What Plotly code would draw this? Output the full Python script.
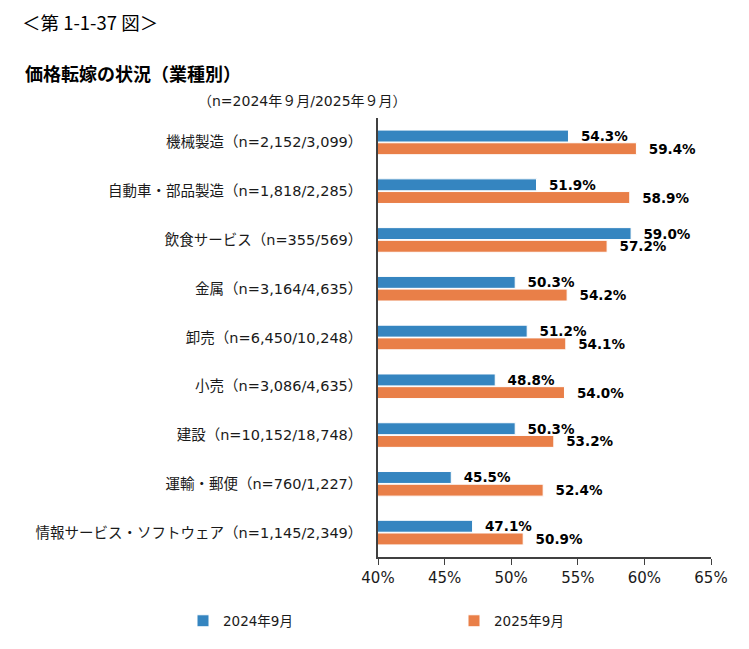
import plotly.graph_objects as go


CATEGORIAS = [
    "機械製造（n=2,152/3,099）",
    "自動車・部品製造（n=1,818/2,285）",
    "飲食サービス（n=355/569）",
    "金属（n=3,164/4,635）",
    "卸売（n=6,450/10,248）",
    "小売（n=3,086/4,635）",
    "建設（n=10,152/18,748）",
    "運輸・郵便（n=760/1,227）",
    "情報サービス・ソフトウェア（n=1,145/2,349）",
]

VALORES_2024 = [54.3, 51.9, 59.0, 50.3, 51.2, 48.8, 50.3, 45.5, 47.1]
VALORES_2025 = [59.4, 58.9, 57.2, 54.2, 54.1, 54.0, 53.2, 52.4, 50.9]

TICKS = [40, 45, 50, 55, 60, 65]
TICK_LABELS = ["40%", "45%", "50%", "55%", "60%", "65%"]

AZUL = "#3585C0"
NARANJA = "#E97F48"

FUENTE = "DejaVu Sans, Noto Sans CJK JP, sans-serif"
FUENTE_JP = "Noto Sans CJK JP, sans-serif"

# El navegador deja 8 px de margen en el body, así que restamos ese desfase.
OFF = 8
ANCHO, ALTO = 749 - OFF, 649 - OFF

# Área del gráfico en píxeles de la ventana.
IZQ, DER, ARR, ABA = 378, 711, 118, 557


def px_x(x):
    return (x - IZQ) / (DER - IZQ)


def px_y(y):
    return (ABA - y) / (ABA - ARR)


def main():

    fig = go.Figure()

    for nombre, valores, color in [
        ("2024年9月", VALORES_2024, AZUL),
        ("2025年9月", VALORES_2025, NARANJA),
    ]:
        fig.add_trace(
            go.Bar(
                y=CATEGORIAS,
                x=valores,
                name=nombre,
                orientation="h",
                marker_color=color,
                marker_line_color="#FFFFFF",
                marker_line_width=1,
                text=[f"\u00a0\u00a0{v:.1f}%" for v in valores],
                textposition="outside",
                constraintext="none",
                cliponaxis=False,
                textfont=dict(family=FUENTE, size=13.5, color="#000000", weight="bold"),
                base=0,
            )
        )

    fig.update_xaxes(
        range=[40, 65],
        tickvals=TICKS,
        ticktext=TICK_LABELS,
        ticks="outside",
        ticklen=6,
        tickcolor="#404040",
        showline=True,
        linecolor="#404040",
        linewidth=1.5,
        showgrid=False,
        zeroline=False,
        tickfont=dict(family=FUENTE, size=15, color="#1A1A1A"),
    )

    fig.update_yaxes(
        autorange="reversed",
        showline=True,
        linecolor="#404040",
        linewidth=1.5,
        showgrid=False,
        ticks="",
        ticklabelstandoff=11,
        tickfont=dict(family=FUENTE, size=14.5, color="#1A1A1A"),
    )

    fig.update_layout(
        width=ANCHO,
        height=ALTO,
        barmode="group",
        bargap=0.48,
        bargroupgap=0.06,
        plot_bgcolor="#FFFFFF",
        paper_bgcolor="#FFFFFF",
        margin=dict(l=IZQ - OFF, r=749 - DER, t=ARR - OFF, b=649 - ABA,
                    autoexpand=False),
        showlegend=True,
        legend=dict(
            orientation="h",
            x=px_x(183),
            y=px_y(621),
            xanchor="left",
            yanchor="middle",
            entrywidth=226,
            itemwidth=30,
            font=dict(family=FUENTE, size=13.5, color="#1A1A1A"),
            traceorder="normal",
        ),
        annotations=[
            dict(
                x=px_x(20), y=px_y(22), xref="paper", yref="paper",
                xanchor="left", yanchor="middle", showarrow=False,
                text="＜第 1-1-37 図＞",
                font=dict(family=FUENTE_JP, size=18.5, color="#000000"),
            ),
            dict(
                x=px_x(23), y=px_y(73), xref="paper", yref="paper",
                xanchor="left", yanchor="middle", showarrow=False,
                text="<b>価格転嫁の状況（業種別）</b>",
                font=dict(family=FUENTE_JP, size=18, color="#000000"),
            ),
            dict(
                x=px_x(196), y=px_y(101), xref="paper", yref="paper",
                xanchor="left", yanchor="middle", showarrow=False,
                text="（n=2024年９月/2025年９月）",
                font=dict(family=FUENTE, size=14, color="#1A1A1A"),
            ),
        ],
    )

    fig.write_html("out.html")


if __name__ == "__main__":

    main()
